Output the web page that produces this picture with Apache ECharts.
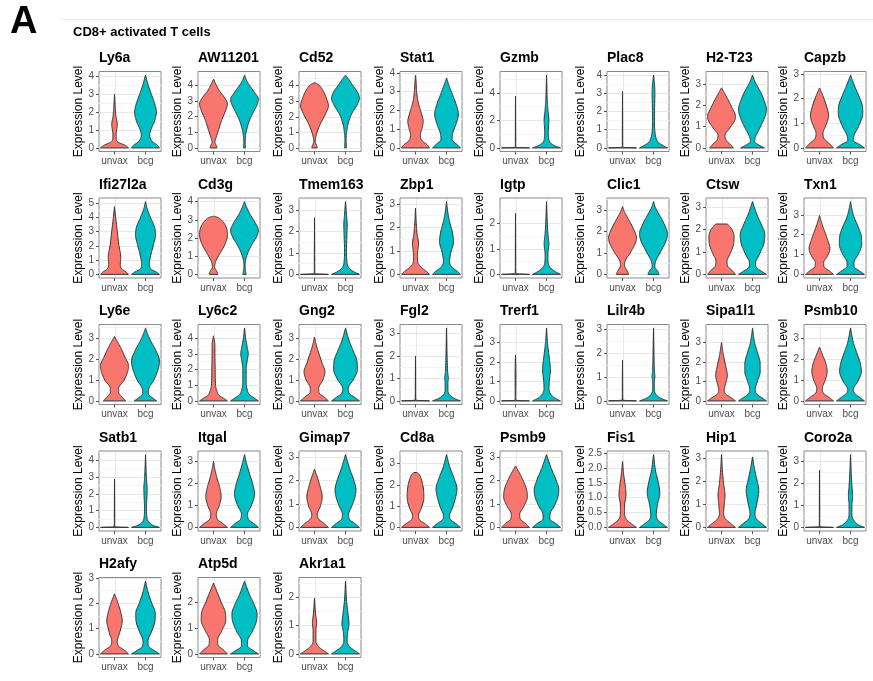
<!DOCTYPE html>
<html>
<head>
<meta charset="utf-8">
<title>CD8+ activated T cells</title>
<script src="https://cdn.jsdelivr.net/npm/echarts@6/dist/echarts.min.js"></script>
<style>
html, body { margin: 0; padding: 0; background: #fff; }
#main { width: 873px; height: 681px; }
</style>
</head>
<body>
<div id="main"></div>
<script>
// one violin panel per gene, 8 per row
var genes = ['Ly6a', 'AW112010', 'Cd52', 'Stat1', 'Gzmb', 'Plac8', 'H2-T23', 'Capzb',
    'Ifi27l2a', 'Cd3g', 'Tmem163', 'Zbp1', 'Igtp', 'Clic1', 'Ctsw', 'Txn1',
    'Ly6e', 'Ly6c2', 'Gng2', 'Fgl2', 'Trerf1', 'Lilr4b', 'Sipa1l1', 'Psmb10',
    'Satb1', 'Itgal', 'Gimap7', 'Cd8a', 'Psmb9', 'Fis1', 'Hip1', 'Coro2a',
    'H2afy', 'Atp5d', 'Akr1a1'];
var groups = ['unvax', 'bcg'];
// y tick step of each panel
var tickStep = [1, 1, 1, 1, 2, 1, 1, 1,
    1, 1, 1, 1, 1, 1, 1, 1,
    1, 1, 1, 1, 1, 1, 1, 1,
    1, 1, 1, 1, 1, 0.5, 1, 1,
    1, 1, 1];
// violin outlines: [expression level, relative half width], bottom to top
var unvaxViolins = [
    [[0,1],[0.15,0.75],[0.3,0.3],[0.5,0.12],[0.8,0.12],[1.3,0.2],[1.8,0.1],[2.3,0.05],[3.0,0]],
    [[0,0.25],[0.15,0.2],[0.35,0.1],[0.7,0.2],[1.2,0.38],[1.8,0.6],[2.4,0.88],[2.8,1],[3.2,0.8],[3.6,0.45],[4.0,0.2],[4.38,0]],
    [[0,0.2],[0.15,0.15],[0.4,0.05],[0.8,0.12],[1.5,0.4],[2.2,0.8],[2.7,1],[3.2,0.85],[3.7,0.6],[4.05,0.3],[4.2,0]],
    [[0,1],[0.15,0.85],[0.4,0.45],[0.7,0.35],[1.0,0.45],[1.4,0.55],[1.9,0.4],[2.4,0.2],[3.0,0.08],[3.5,0.04],[3.88,0]],
    [[0,1],[0.03,0.02],[0.5,0.012],[3.76,0]],
    [[0,1],[0.03,0.02],[0.5,0.012],[3.1,0]],
    [[0,0.85],[0.15,0.65],[0.4,0.3],[0.6,0.25],[0.9,0.55],[1.3,0.95],[1.5,1],[1.9,0.75],[2.3,0.45],[2.6,0.2],[2.84,0]],
    [[0,1],[0.15,0.75],[0.4,0.3],[0.6,0.25],[0.9,0.45],[1.3,0.65],[1.7,0.5],[2.1,0.25],[2.43,0]],

    [[0,1],[0.15,0.85],[0.4,0.5],[0.7,0.42],[1.2,0.45],[2.0,0.32],[3.0,0.2],[4.0,0.08],[4.74,0]],
    [[0,0.3],[0.15,0.25],[0.4,0.08],[0.7,0.15],[1.2,0.5],[1.7,0.85],[2.2,1],[2.7,0.85],[3.0,0.55],[3.15,0.25],[3.2,0]],
    [[0,1],[0.03,0.02],[0.5,0.012],[2.64,0]],
    [[0,1],[0.12,0.8],[0.3,0.4],[0.55,0.15],[0.9,0.15],[1.3,0.22],[1.7,0.12],[2.2,0.05],[2.82,0]],
    [[0,1],[0.03,0.02],[0.5,0.012],[2.39,0]],
    [[0,0.45],[0.15,0.35],[0.4,0.15],[0.6,0.18],[1.0,0.55],[1.5,0.95],[1.7,1],[2.1,0.8],[2.6,0.4],[2.9,0.15],[3.16,0]],
    [[0,1],[0.15,0.8],[0.4,0.42],[0.6,0.4],[0.9,0.6],[1.3,0.85],[1.7,0.9],[2.0,0.75],[2.2,0.5],[2.25,0.42]],
    [[0,1],[0.15,0.75],[0.4,0.32],[0.6,0.3],[0.9,0.55],[1.3,0.75],[1.7,0.6],[2.2,0.35],[2.6,0.15],[2.97,0]],

    [[0,0.8],[0.15,0.6],[0.4,0.3],[0.6,0.3],[1.0,0.7],[1.5,0.98],[1.7,1],[2.1,0.75],[2.6,0.4],[3.08,0]],
    [[0,1],[0.15,0.75],[0.35,0.4],[0.6,0.25],[1.0,0.15],[2.0,0.12],[3.0,0.1],[3.6,0.1],[4.15,0]],
    [[0,1],[0.15,0.75],[0.4,0.32],[0.6,0.3],[1.0,0.6],[1.4,0.75],[1.8,0.55],[2.3,0.3],[2.7,0.12],[3.05,0]],
    [[0,1],[0.03,0.02],[0.5,0.012],[2.0,0]],
    [[0,1],[0.03,0.03],[0.3,0.02],[1.3,0.03],[2.36,0]],
    [[0,1],[0.03,0.02],[0.5,0.012],[1.71,0]],
    [[0,1],[0.15,0.72],[0.35,0.3],[0.55,0.2],[0.9,0.3],[1.3,0.42],[1.8,0.3],[2.3,0.15],[2.7,0.06],[3.0,0]],
    [[0,1],[0.15,0.72],[0.35,0.3],[0.6,0.2],[1.0,0.42],[1.4,0.55],[1.8,0.45],[2.2,0.22],[2.57,0]],

    [[0,1],[0.03,0.02],[0.5,0.012],[2.88,0]],
    [[0,1],[0.15,0.72],[0.35,0.3],[0.6,0.2],[1.0,0.42],[1.4,0.55],[1.8,0.45],[2.3,0.22],[2.7,0.08],[3.0,0]],
    [[0,1],[0.15,0.72],[0.35,0.3],[0.55,0.2],[0.9,0.42],[1.3,0.55],[1.7,0.42],[2.1,0.22],[2.48,0]],
    [[0,1],[0.15,0.72],[0.35,0.3],[0.55,0.22],[0.9,0.42],[1.4,0.6],[1.9,0.55],[2.3,0.4],[2.5,0.25],[2.58,0.1]],
    [[0,1],[0.15,0.75],[0.35,0.35],[0.55,0.3],[0.9,0.6],[1.3,0.85],[1.6,0.8],[2.0,0.55],[2.3,0.3],[2.62,0]],
    [[0,1],[0.1,0.7],[0.25,0.3],[0.45,0.15],[0.75,0.15],[1.1,0.25],[1.4,0.2],[1.8,0.08],[2.22,0]],
    [[0,1],[0.15,0.7],[0.35,0.3],[0.6,0.15],[1.0,0.2],[1.4,0.25],[1.9,0.15],[2.5,0.06],[3.15,0]],
    [[0,1],[0.03,0.02],[0.5,0.012],[2.6,0]],

    [[0,1],[0.15,0.7],[0.3,0.3],[0.5,0.2],[0.85,0.38],[1.3,0.55],[1.7,0.42],[2.05,0.22],[2.37,0]],
    [[0,1],[0.15,0.72],[0.35,0.32],[0.55,0.3],[0.9,0.6],[1.3,0.88],[1.6,0.85],[2.0,0.55],[2.4,0.25],[2.74,0]],
    [[0,1],[0.1,0.7],[0.25,0.3],[0.45,0.1],[0.8,0.1],[1.1,0.15],[1.4,0.08],[1.96,0]]
];
var bcgViolins = [
    [[0,1],[0.15,0.85],[0.35,0.5],[0.7,0.3],[1.0,0.38],[1.5,0.65],[2.0,0.78],[2.5,0.65],[3.0,0.42],[3.5,0.2],[4.07,0]],
    [[0,0.08],[0.3,0.05],[0.8,0.08],[1.3,0.2],[1.8,0.38],[2.3,0.65],[2.8,0.92],[3.1,1],[3.5,0.75],[4.0,0.35],[4.3,0.15],[4.64,0]],
    [[0,0.06],[0.5,0.04],[1.0,0.08],[1.6,0.2],[2.2,0.45],[2.8,0.85],[3.2,1],[3.6,0.85],[4.05,0.5],[4.45,0.2],[4.68,0]],
    [[0,1],[0.15,0.8],[0.45,0.4],[0.8,0.45],[1.3,0.7],[1.8,0.85],[2.3,0.7],[2.8,0.45],[3.2,0.25],[3.5,0.1],[3.73,0]],
    [[0,1],[0.15,0.6],[0.35,0.3],[0.7,0.15],[1.2,0.13],[2.0,0.17],[2.8,0.1],[3.5,0.05],[4.5,0.02],[5.28,0]],
    [[0,1],[0.12,0.7],[0.3,0.35],[0.5,0.2],[0.9,0.1],[1.5,0.07],[2.3,0.08],[3.0,0.1],[3.5,0.07],[4.0,0]],
    [[0,0.85],[0.12,0.5],[0.3,0.15],[0.5,0.2],[0.9,0.5],[1.4,0.85],[1.8,1],[2.3,0.8],[2.8,0.45],[3.1,0.2],[3.44,0]],
    [[0,1],[0.12,0.7],[0.3,0.2],[0.5,0.25],[0.9,0.6],[1.4,0.88],[1.7,0.85],[2.1,0.6],[2.5,0.3],[2.95,0]],

    [[0,1],[0.15,0.8],[0.4,0.35],[0.7,0.28],[1.2,0.35],[2.0,0.55],[2.8,0.72],[3.3,0.65],[4.0,0.35],[4.6,0.12],[5.09,0]],
    [[0,0.12],[0.15,0.08],[0.5,0.04],[1.0,0.15],[1.6,0.5],[2.1,0.88],[2.4,1],[2.8,0.8],[3.3,0.4],[3.7,0.15],[4.0,0]],
    [[0,1],[0.12,0.6],[0.3,0.25],[0.6,0.1],[1.2,0.07],[1.8,0.1],[2.3,0.12],[2.8,0.07],[3.39,0]],
    [[0,1],[0.12,0.8],[0.3,0.4],[0.55,0.22],[0.9,0.3],[1.4,0.5],[1.8,0.42],[2.3,0.2],[2.7,0.08],[3.1,0]],
    [[0,1],[0.1,0.65],[0.25,0.3],[0.45,0.12],[0.8,0.1],[1.2,0.17],[1.6,0.1],[2.2,0.04],[2.85,0]],
    [[0,0.4],[0.15,0.3],[0.35,0.1],[0.6,0.15],[1.1,0.55],[1.6,0.92],[1.9,1],[2.3,0.8],[2.8,0.4],[3.1,0.15],[3.39,0]],
    [[0,1],[0.12,0.7],[0.3,0.28],[0.5,0.22],[0.9,0.5],[1.4,0.82],[1.8,0.88],[2.2,0.65],[2.7,0.3],[3.25,0]],
    [[0,1],[0.15,0.7],[0.4,0.25],[0.6,0.25],[1.0,0.55],[1.5,0.8],[1.9,0.78],[2.4,0.55],[2.9,0.25],[3.3,0.1],[3.67,0]],

    [[0,0.8],[0.12,0.55],[0.35,0.2],[0.55,0.22],[1.0,0.6],[1.5,0.9],[1.9,1],[2.4,0.75],[2.9,0.35],[3.2,0.15],[3.48,0]],
    [[0,1],[0.15,0.75],[0.4,0.35],[0.7,0.2],[1.2,0.12],[2.0,0.12],[2.6,0.2],[3.0,0.27],[3.4,0.2],[4.0,0.08],[4.64,0]],
    [[0,1],[0.15,0.7],[0.35,0.28],[0.6,0.2],[1.0,0.55],[1.5,0.85],[1.9,0.82],[2.4,0.55],[2.9,0.25],[3.48,0]],
    [[0,1],[0.1,0.6],[0.25,0.25],[0.5,0.1],[0.8,0.1],[1.0,0.13],[1.3,0.08],[2.0,0.04],[3.25,0]],
    [[0,1],[0.12,0.65],[0.3,0.35],[0.6,0.18],[1.0,0.2],[1.6,0.28],[2.2,0.2],[2.8,0.1],[3.3,0.04],[3.74,0]],
    [[0,1],[0.1,0.55],[0.25,0.2],[0.5,0.06],[0.8,0.06],[1.0,0.1],[1.3,0.06],[2.0,0.03],[3.04,0]],
    [[0,1],[0.15,0.7],[0.35,0.3],[0.6,0.2],[1.0,0.35],[1.5,0.55],[1.9,0.55],[2.5,0.35],[3.0,0.15],[3.4,0.06],[3.74,0]],
    [[0,1],[0.15,0.7],[0.35,0.3],[0.55,0.2],[0.9,0.5],[1.4,0.78],[1.8,0.7],[2.3,0.45],[2.8,0.2],[3.48,0]],

    [[0,1],[0.1,0.6],[0.3,0.25],[0.6,0.1],[1.2,0.07],[1.8,0.1],[2.3,0.12],[2.9,0.07],[3.6,0.03],[4.33,0]],
    [[0,1],[0.15,0.72],[0.35,0.3],[0.6,0.22],[1.0,0.5],[1.5,0.72],[1.9,0.62],[2.4,0.38],[2.9,0.15],[3.3,0]],
    [[0,1],[0.15,0.7],[0.35,0.28],[0.55,0.22],[0.9,0.45],[1.3,0.68],[1.6,0.75],[2.0,0.6],[2.5,0.3],[3.1,0]],
    [[0,1],[0.15,0.72],[0.35,0.3],[0.55,0.22],[0.9,0.42],[1.4,0.65],[1.8,0.75],[2.3,0.55],[2.8,0.25],[3.42,0]],
    [[0,1],[0.15,0.7],[0.35,0.25],[0.55,0.25],[0.9,0.55],[1.3,0.82],[1.6,0.88],[2.0,0.7],[2.5,0.35],[3.1,0]],
    [[0,1],[0.1,0.7],[0.25,0.3],[0.45,0.2],[0.8,0.3],[1.15,0.45],[1.5,0.35],[1.9,0.15],[2.45,0]],
    [[0,1],[0.15,0.7],[0.35,0.3],[0.6,0.18],[1.0,0.3],[1.6,0.45],[2.1,0.3],[2.6,0.12],[3.05,0]],
    [[0,1],[0.1,0.6],[0.3,0.25],[0.6,0.1],[1.0,0.1],[1.4,0.15],[1.9,0.1],[2.6,0.04],[3.3,0]],

    [[0,1],[0.12,0.65],[0.3,0.22],[0.5,0.18],[0.9,0.45],[1.3,0.68],[1.6,0.7],[2.0,0.45],[2.4,0.2],[2.87,0]],
    [[0,1],[0.12,0.65],[0.3,0.22],[0.5,0.22],[0.85,0.55],[1.25,0.85],[1.55,0.9],[1.9,0.7],[2.3,0.35],[2.81,0]],
    [[0,1],[0.1,0.7],[0.25,0.3],[0.45,0.12],[0.75,0.15],[1.05,0.25],[1.4,0.18],[1.9,0.07],[2.56,0]]
];

// panel layout (px)
var colLeft = [99, 198, 299, 400, 500, 607, 706, 804];
var colNameGap = [14, 14, 14, 14, 14, 20, 14, 14];
var rowTop = [71.5, 198, 324.5, 451, 577.5];
var panelW = 62, panelH = 80;
var FONT = '"Liberation Sans", Arial, Helvetica, sans-serif';
var fills = ['#F8766D', '#00BFC4'];

// smooth (monotone cubic) outline through the read-off knots
function violinOutline(knots, steps) {
    var n = knots.length, i, j;
    var xs = knots.map(function (k) { return k[0]; });
    var ys = knots.map(function (k) { return k[1]; });
    var d = [], m = [];
    for (i = 0; i < n - 1; i++) d.push((ys[i + 1] - ys[i]) / (xs[i + 1] - xs[i]));
    m[0] = d[0];
    m[n - 1] = d[n - 2];
    for (i = 1; i < n - 1; i++) m[i] = d[i - 1] * d[i] <= 0 ? 0 : (d[i - 1] + d[i]) / 2;
    for (i = 0; i < n - 1; i++) {
        if (d[i] === 0) { m[i] = 0; m[i + 1] = 0; continue; }
        var a = m[i] / d[i], b = m[i + 1] / d[i], s = a * a + b * b;
        if (s > 9) {
            var t = 3 / Math.sqrt(s);
            m[i] = t * a * d[i];
            m[i + 1] = t * b * d[i];
        }
    }
    var out = [];
    for (i = 0; i < n - 1; i++) {
        var h = xs[i + 1] - xs[i];
        for (j = 0; j < steps; j++) {
            var u = j / steps, u2 = u * u, u3 = u2 * u;
            var v = (2 * u3 - 3 * u2 + 1) * ys[i] + (u3 - 2 * u2 + u) * h * m[i] +
                (-2 * u3 + 3 * u2) * ys[i + 1] + (u3 - u2) * h * m[i + 1];
            out.push([xs[i] + u * h, Math.max(0, v)]);
        }
    }
    out.push([xs[n - 1], ys[n - 1]]);
    return out;
}

function makeViolin(g) {
    return function (params, api) {
        var cat = api.value(0);
        var knots = cat === 0 ? unvaxViolins[g] : bcgViolins[g];
        var cx = api.coord([cat, 0])[0];
        var half = api.size([1, 0])[0] * 0.45;
        var right = [], left = [];
        violinOutline(knots, 10).forEach(function (p) {
            var y = api.coord([cat, p[0]])[1];
            right.push([cx + p[1] * half, y]);
            left.unshift([cx - p[1] * half, y]);
        });
        var cs = params.coordSys;
        var gx = Math.round(cx) + 0.5;
        return {
            type: 'group',
            children: [
                { type: 'line', silent: true,
                  shape: { x1: gx, y1: cs.y + 1, x2: gx, y2: cs.y + cs.height - 1 },
                  style: { stroke: '#e8e8e8', lineWidth: 1 } },
                { type: 'polygon', silent: true,
                  shape: { points: right.concat(left) },
                  style: { fill: fills[cat], stroke: '#333', lineWidth: 1 } }
            ]
        };
    };
}

function topOf(list) { return list[list.length - 1][0]; }

var grids = [], xAxes = [], yAxes = [], series = [];
var graphics = [
    { type: 'text', x: 10, y: 23, style: { text: 'A', fontSize: 38, fontWeight: 'bold', fontFamily: FONT, fill: '#000', verticalAlign: 'middle' } },
    { type: 'line', shape: { x1: 60, y1: 19.5, x2: 873, y2: 19.5 }, style: { stroke: '#ececec', lineWidth: 1 } },
    { type: 'text', x: 73, y: 32, style: { text: 'CD8+ activated T cells', fontSize: 13, fontWeight: 'bold', fontFamily: FONT, fill: '#000', verticalAlign: 'middle' } }
];

genes.forEach(function (gene, g) {
    var col = g % 8, row = Math.floor(g / 8);
    var left = colLeft[col], top = rowTop[row];
    var step = tickStep[g];
    var M = Math.max(topOf(unvaxViolins[g]), topOf(bcgViolins[g]));
    var lo = -0.05 * M, hi = 1.05 * M;
    var majors = [], minors = [], k;
    for (k = 0; k * step <= hi + 1e-9; k++) majors.push(k * step);
    for (k = -1; (k + 0.5) * step <= hi; k++) {
        if ((k + 0.5) * step >= lo) minors.push((k + 0.5) * step);
    }
    var fmt = step < 1 ? function (v) { return v.toFixed(1); } : function (v) { return String(v); };

    grids.push({
        left: left, top: top, width: panelW, height: panelH,
        show: true, borderColor: '#8a8a8a', borderWidth: 1, backgroundColor: '#fff',
        containLabel: false, outerBoundsMode: 'none'
    });
    xAxes.push({
        type: 'category', gridIndex: g, data: groups, boundaryGap: true,
        axisLine: { show: false, onZero: false },
        axisTick: { show: true, alignWithLabel: true, length: 3, lineStyle: { color: '#555' } },
        axisLabel: { interval: 0, fontSize: 10, color: '#4d4d4d', margin: 5, fontFamily: FONT },
        splitLine: { show: false }
    });
    yAxes.push({
        type: 'value', gridIndex: g, min: lo, max: hi,
        axisLine: { show: false, onZero: false },
        axisTick: { show: true, length: 3, lineStyle: { color: '#555' }, customValues: majors },
        axisLabel: { fontSize: 10, color: '#4d4d4d', margin: 5, fontFamily: FONT, customValues: majors, formatter: fmt },
        splitLine: { show: true, lineStyle: { color: '#e8e8e8', width: 1 } },
        name: 'Expression Level', nameLocation: 'middle', nameGap: colNameGap[col], nameMoveOverlap: false,
        nameTextStyle: { fontSize: 12, color: '#000', fontFamily: FONT }
    });
    yAxes.push({
        type: 'value', gridIndex: g, min: lo, max: hi,
        axisLine: { show: false, onZero: false },
        axisTick: { show: false, customValues: minors },
        axisLabel: { show: false, customValues: minors },
        splitLine: { show: true, lineStyle: { color: '#f4f4f4', width: 1 } }
    });
    series.push({
        type: 'custom', xAxisIndex: g, yAxisIndex: 2 * g, silent: true,
        renderItem: makeViolin(g),
        encode: { x: 0, y: 1 },
        data: [[0, topOf(unvaxViolins[g])], [1, topOf(bcgViolins[g])]]
    });
    graphics.push({
        type: 'text', x: left, y: top - 13,
        style: { text: gene, fontSize: 14, fontWeight: 'bold', fontFamily: FONT, fill: '#000',
                 verticalAlign: 'middle', width: 68, overflow: 'truncate', ellipsis: '' }
    });
});

var myChart = echarts.init(document.getElementById('main'));
myChart.setOption({
    animation: false,
    backgroundColor: '#fff',
    textStyle: { fontFamily: FONT },
    grid: grids,
    xAxis: xAxes,
    yAxis: yAxes,
    series: series,
    graphic: graphics
});
</script>
</body>
</html>
